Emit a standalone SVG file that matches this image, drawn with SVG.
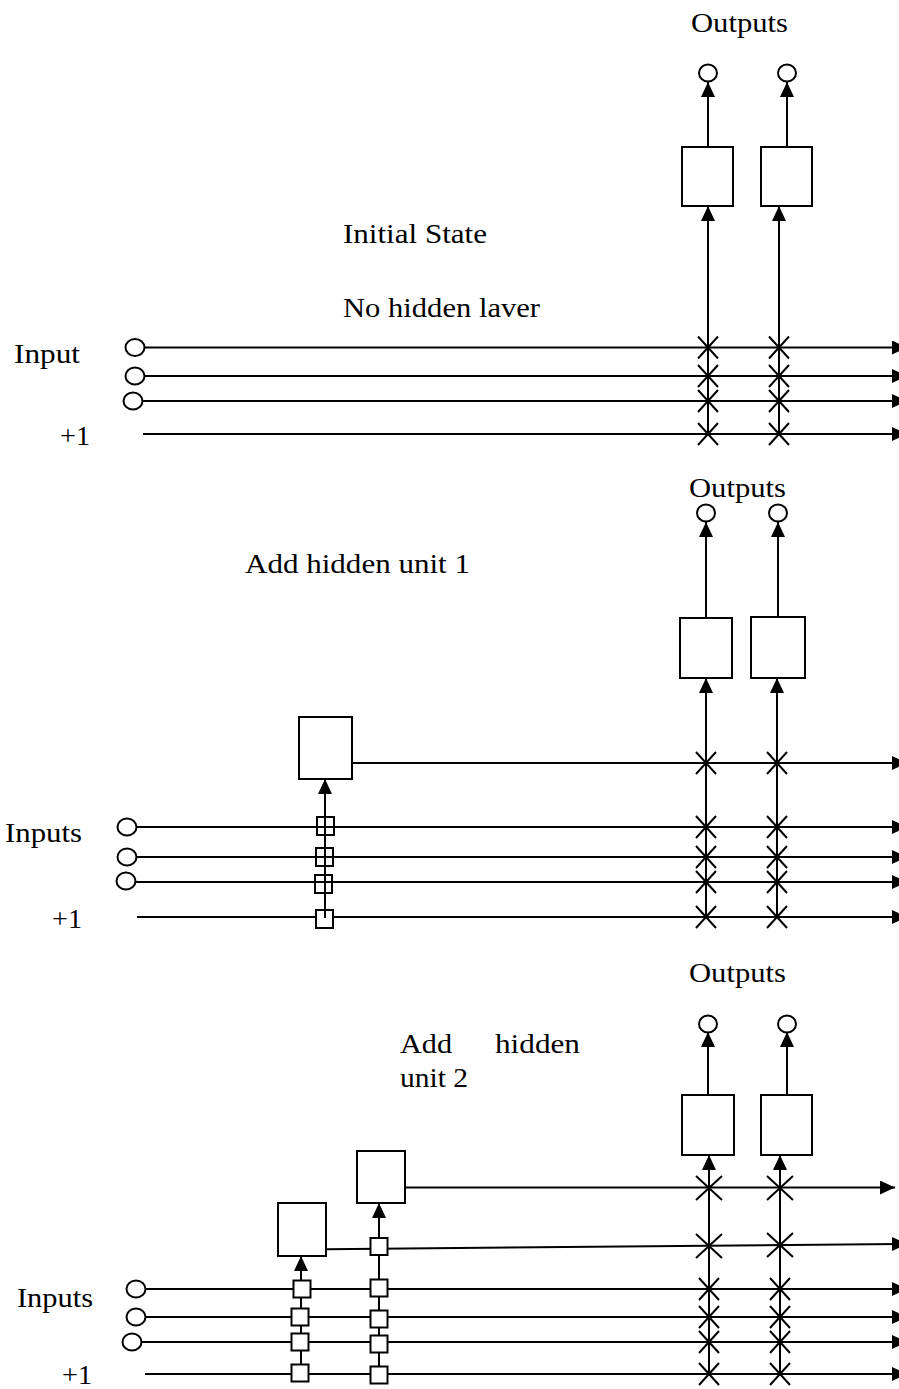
<svg xmlns="http://www.w3.org/2000/svg" width="899" height="1389" viewBox="0 0 899 1389">
  <style>
    .lbl { font-family: "Liberation Serif", "Times New Roman", serif; font-size: 28px; fill: #000; }
    .ln { stroke: #000; stroke-width: 2; fill: none; }
    .arr { stroke: #000; stroke-width: 2; fill: none; marker-end: url(#tip); }
    .unit { fill: #fff; stroke: #000; stroke-width: 2; }
    .term { fill: #fff; stroke: #000; stroke-width: 2; }
    .gate { fill: none; stroke: #000; stroke-width: 2; }
    .gatew { fill: #fff; stroke: #000; stroke-width: 2; }
    .wt { stroke: #000; stroke-width: 2; fill: none; }
  </style>
  <defs>
    <marker id="tip" markerUnits="userSpaceOnUse" markerWidth="16" markerHeight="15" refX="15" refY="7" orient="auto">
      <path d="M0,0 L15,7 L0,14 Z" fill="#000"/>
    </marker>
    <path id="x10" d="M-10,-11 L10,11 M-10,11 L10,-11"/>
    <path id="x13" d="M-13,-12 L13,12 M-13,12 L13,-12"/>
  </defs>
  <rect width="899" height="1389" fill="#fff"/>

  <!-- ===== Stage 1: initial state, no hidden layer ===== -->
  <g id="labels-1">
    <text class="lbl" x="691" y="32" textLength="97" lengthAdjust="spacingAndGlyphs">Outputs</text>
    <text class="lbl" x="343" y="243" textLength="144" lengthAdjust="spacingAndGlyphs">Initial State</text>
    <text class="lbl" x="343" y="317" textLength="197" lengthAdjust="spacingAndGlyphs">No hidden laver</text>
    <text class="lbl" x="14" y="363" textLength="66" lengthAdjust="spacingAndGlyphs">Input</text>
    <text class="lbl" x="60" y="445" textLength="30" lengthAdjust="spacingAndGlyphs">+1</text>
  </g>
  <g id="connectors-1">
    <line class="arr" x1="708" y1="147" x2="708" y2="82"/>
    <line class="arr" x1="787" y1="147" x2="787" y2="82"/>
    <line class="arr" x1="708" y1="434" x2="708" y2="206"/>
    <line class="arr" x1="779" y1="434" x2="779" y2="206"/>
    <line class="arr" x1="145" y1="347.5" x2="907" y2="347.5"/>
    <line class="arr" x1="145" y1="376" x2="907" y2="376"/>
    <line class="arr" x1="143" y1="401" x2="907" y2="401"/>
    <line class="arr" x1="143" y1="434" x2="907" y2="434"/>
  </g>
  <g id="weights-1" class="wt">
    <use href="#x10" x="708" y="347.5"/><use href="#x10" x="779" y="347.5"/>
    <use href="#x10" x="708" y="376"/><use href="#x10" x="779" y="376"/>
    <use href="#x10" x="708" y="401"/><use href="#x10" x="779" y="401"/>
    <use href="#x10" x="708" y="434"/><use href="#x10" x="779" y="434"/>
  </g>
  <g id="s1-out1"><ellipse class="term" cx="708" cy="73" rx="9" ry="8.5"/></g>
  <g id="s1-out2"><ellipse class="term" cx="787" cy="73" rx="9" ry="8.5"/></g>
  <g id="s1-unit1"><rect class="unit" x="682" y="147" width="51" height="59"/></g>
  <g id="s1-unit2"><rect class="unit" x="761" y="147" width="51" height="59"/></g>
  <g id="s1-in1"><ellipse class="term" cx="135" cy="347.5" rx="9.5" ry="8.5"/></g>
  <g id="s1-in2"><ellipse class="term" cx="135" cy="376" rx="9.5" ry="8.5"/></g>
  <g id="s1-in3"><ellipse class="term" cx="133" cy="401" rx="9.5" ry="8.5"/></g>

  <!-- ===== Stage 2: one hidden unit ===== -->
  <g id="labels-2">
    <text class="lbl" x="689" y="497" textLength="97" lengthAdjust="spacingAndGlyphs">Outputs</text>
    <text class="lbl" x="245" y="573" textLength="225" lengthAdjust="spacingAndGlyphs">Add hidden unit 1</text>
    <text class="lbl" x="5" y="842" textLength="77" lengthAdjust="spacingAndGlyphs">Inputs</text>
    <text class="lbl" x="52" y="928" textLength="30" lengthAdjust="spacingAndGlyphs">+1</text>
  </g>
  <g id="connectors-2">
    <line class="arr" x1="706" y1="618" x2="706" y2="522"/>
    <line class="arr" x1="778" y1="617" x2="778" y2="522"/>
    <line class="arr" x1="706" y1="917" x2="706" y2="678"/>
    <line class="arr" x1="777" y1="917" x2="777" y2="678"/>
    <line class="arr" x1="325" y1="918" x2="325" y2="779"/>
    <line class="arr" x1="352" y1="763" x2="907" y2="763"/>
    <line class="arr" x1="137" y1="827" x2="907" y2="827"/>
    <line class="arr" x1="137" y1="857" x2="907" y2="857"/>
    <line class="arr" x1="136" y1="882" x2="907" y2="882"/>
    <line class="ln" x1="137" y1="917" x2="316" y2="917"/>
    <line class="arr" x1="334" y1="917" x2="907" y2="917"/>
  </g>
  <g id="weights-2" class="wt">
    <use href="#x10" x="706" y="763"/><use href="#x10" x="777" y="763"/>
    <use href="#x10" x="706" y="827"/><use href="#x10" x="777" y="827"/>
    <use href="#x10" x="706" y="857"/><use href="#x10" x="777" y="857"/>
    <use href="#x10" x="706" y="882"/><use href="#x10" x="777" y="882"/>
    <use href="#x10" x="706" y="917"/><use href="#x10" x="777" y="917"/>
  </g>
  <g id="s2-out1"><ellipse class="term" cx="706" cy="513" rx="9" ry="8.5"/></g>
  <g id="s2-out2"><ellipse class="term" cx="778" cy="513" rx="9" ry="8.5"/></g>
  <g id="s2-unit1"><rect class="unit" x="680" y="618" width="52" height="60"/></g>
  <g id="s2-unit2"><rect class="unit" x="751" y="617" width="54" height="61"/></g>
  <g id="s2-hidden1"><rect class="unit" x="299" y="717" width="53" height="62"/></g>
  <g id="s2-in1"><ellipse class="term" cx="127" cy="827" rx="9.5" ry="8.5"/></g>
  <g id="s2-in2"><ellipse class="term" cx="127" cy="857" rx="9.5" ry="8.5"/></g>
  <g id="s2-in3"><ellipse class="term" cx="126" cy="881" rx="9.5" ry="8.5"/></g>
  <g id="s2-h1-gates">
    <rect class="gate" x="317" y="817" width="17" height="18"/>
    <rect class="gate" x="316" y="848" width="17" height="18"/>
    <rect class="gate" x="315" y="875" width="17" height="18"/>
    <rect class="gate" x="316" y="910" width="17" height="18"/>
  </g>

  <!-- ===== Stage 3: two hidden units ===== -->
  <g id="labels-3">
    <text class="lbl" x="689" y="982" textLength="97" lengthAdjust="spacingAndGlyphs">Outputs</text>
    <text class="lbl" x="400" y="1053" textLength="52" lengthAdjust="spacingAndGlyphs">Add</text>
    <text class="lbl" x="495" y="1053" textLength="85" lengthAdjust="spacingAndGlyphs">hidden</text>
    <text class="lbl" x="400" y="1087" textLength="68" lengthAdjust="spacingAndGlyphs">unit 2</text>
    <text class="lbl" x="17" y="1307" textLength="76" lengthAdjust="spacingAndGlyphs">Inputs</text>
    <text class="lbl" x="62" y="1384" textLength="30" lengthAdjust="spacingAndGlyphs">+1</text>
  </g>
  <g id="connectors-3">
    <line class="arr" x1="708" y1="1095" x2="708" y2="1032"/>
    <line class="arr" x1="787" y1="1095" x2="787" y2="1032"/>
    <line class="arr" x1="709" y1="1374" x2="709" y2="1155"/>
    <line class="arr" x1="780" y1="1374" x2="780" y2="1155"/>
    <line class="arr" x1="379" y1="1375" x2="379" y2="1203"/>
    <line class="arr" x1="301" y1="1373" x2="301" y2="1256"/>
    <line class="arr" x1="405" y1="1187.5" x2="895" y2="1187.5"/>
    <line class="arr" x1="326" y1="1249.3" x2="907" y2="1243.8"/>
    <line class="arr" x1="146" y1="1289" x2="907" y2="1289"/>
    <line class="arr" x1="146" y1="1317" x2="907" y2="1317"/>
    <line class="arr" x1="142" y1="1342" x2="907" y2="1342"/>
    <line class="arr" x1="145" y1="1374" x2="907" y2="1374"/>
  </g>
  <g id="weights-3" class="wt">
    <use href="#x13" x="709" y="1188"/><use href="#x13" x="780" y="1188"/>
    <use href="#x13" x="709" y="1246"/><use href="#x13" x="780" y="1245"/>
    <use href="#x10" x="709" y="1289"/><use href="#x10" x="780" y="1289"/>
    <use href="#x10" x="709" y="1317"/><use href="#x10" x="780" y="1317"/>
    <use href="#x10" x="709" y="1342"/><use href="#x10" x="780" y="1342"/>
    <use href="#x10" x="709" y="1374"/><use href="#x10" x="780" y="1374"/>
  </g>
  <g id="s3-out1"><ellipse class="term" cx="708" cy="1024" rx="9" ry="8.5"/></g>
  <g id="s3-out2"><ellipse class="term" cx="787" cy="1024" rx="9" ry="8.5"/></g>
  <g id="s3-unit1"><rect class="unit" x="682" y="1095" width="52" height="60"/></g>
  <g id="s3-unit2"><rect class="unit" x="761" y="1095" width="51" height="60"/></g>
  <g id="s3-hidden2"><rect class="unit" x="357" y="1151" width="48" height="52"/></g>
  <g id="s3-hidden1"><rect class="unit" x="278" y="1203" width="48" height="53"/></g>
  <g id="s3-in1"><ellipse class="term" cx="136" cy="1289" rx="9.5" ry="8.5"/></g>
  <g id="s3-in2"><ellipse class="term" cx="136" cy="1317" rx="9.5" ry="8.5"/></g>
  <g id="s3-in3"><ellipse class="term" cx="132" cy="1342" rx="9.5" ry="8.5"/></g>
  <g id="s3-h1-gates">
    <rect class="gatew" x="293.5" y="1280.5" width="17" height="17"/>
    <rect class="gatew" x="291.5" y="1308.5" width="17" height="17"/>
    <rect class="gatew" x="291.5" y="1333.5" width="17" height="17"/>
    <rect class="gatew" x="291.5" y="1364.5" width="17" height="17"/>
  </g>
  <g id="s3-h2-gates">
    <rect class="gatew" x="370.5" y="1238" width="17" height="17"/>
    <rect class="gatew" x="370.5" y="1279.5" width="17" height="17"/>
    <rect class="gatew" x="370.5" y="1310.5" width="17" height="17"/>
    <rect class="gatew" x="370.5" y="1335.5" width="17" height="17"/>
    <rect class="gatew" x="370.5" y="1366.5" width="17" height="17"/>
  </g>
</svg>
